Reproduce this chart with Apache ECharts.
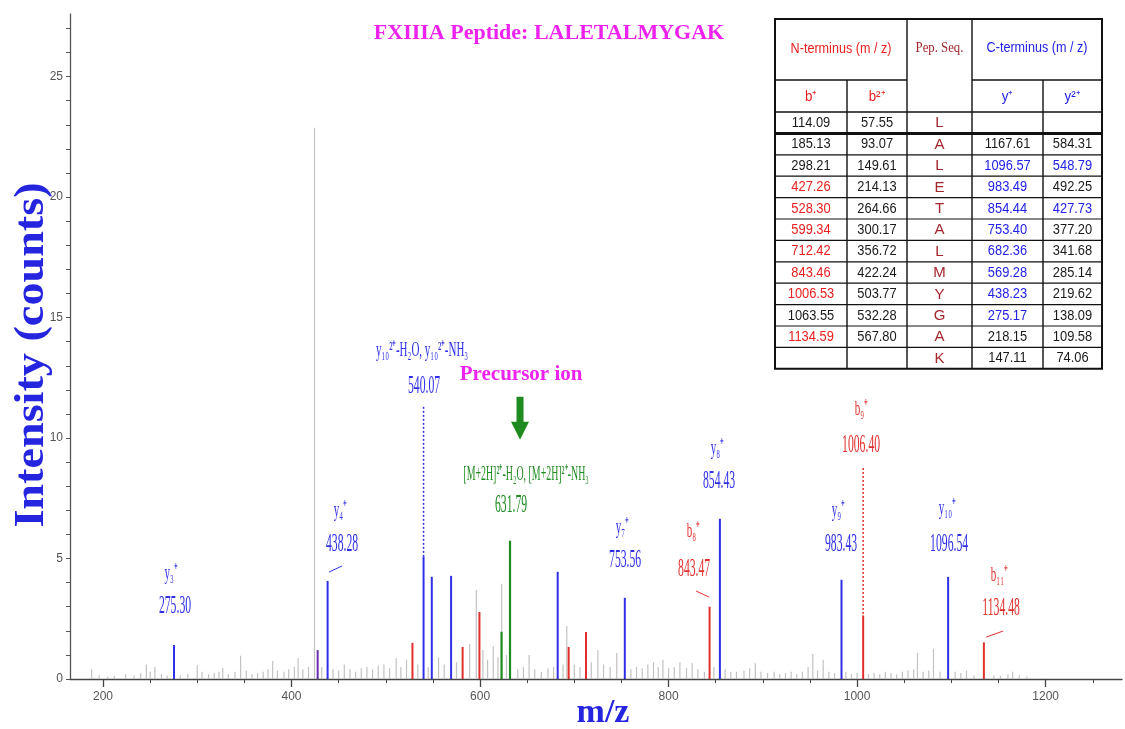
<!DOCTYPE html>
<html><head><meta charset="utf-8">
<script src="https://cdn.jsdelivr.net/npm/echarts@6/dist/echarts.min.js"></script>
<style>html,body{margin:0;padding:0;background:#fff}#c{width:1125px;height:729px}</style>
</head><body><div id="c"></div>
<script>
// ---------------- DATA ----------------
const xTickLabels = [200, 400, 600, 800, 1000, 1200];
const xMinorTicks = [200,250,300,350,400,450,500,550,600,650,700,750,800,850,900,950,1000,1050,1100,1150,1200,1250];
const yTickLabels = [0, 5, 10, 15, 20, 25];
const yMinorTicks = [0,1,2,3,4,5,6,7,8,9,10,11,12,13,14,15,16,17,18,19,20,21,22,23,24,25,26,27];

// matched y ions (blue)
const yIonMz  = [275.30, 438.28, 540.07, 548.79, 569.28, 682.36, 753.56, 854.43, 983.43, 1096.54];
const yIonInt = [1.41, 4.07, 5.07, 4.24, 4.28, 4.45, 3.37, 6.65, 4.12, 4.24];
// matched b ions (red)
const bIonMz  = [528.30, 581.5, 599.34, 694.0, 712.42, 843.47, 1006.40, 1134.48];
const bIonInt = [1.50, 1.33, 2.78, 1.33, 1.95, 3.00, 2.64, 1.52];
// precursor related (green)
const precMz  = [622.8, 631.79];
const precInt = [1.96, 5.74];
// overlapping b/y (purple)
const mixMz  = [427.73];
const mixInt = [1.20];
// unassigned peaks (gray)
const noiseMz  = [188,196,205,212,224,233,240,246,250,255,262,268,282,290,300,305,312,318,323,327,333,340,346,352,358,364,370,375,380,385,392,397,403,407,412,418,424.4,432,444,450,456,462,468,474,480,486,492,498,504,511,516,522,534,545,556,562,575,589,596,603,608,614,619,623,628,640,646,652,658,665,672,678,688,692,700,706,718,725,731,738,745,760,766,772,778,784,789,794,800,806,812,819,825,831,838,848,860,866,872,880,886,892,898,905,912,918,924,930,936,942,948,953,958,964,970,976,988,994,1000,1012,1018,1024,1030,1036,1042,1048,1054,1060,1064,1070,1076,1081,1088,1104,1110,1116,1124,1145,1152,1160,1165,1172,1180];
const noiseInt = [0.40,0.15,0.10,0.12,0.20,0.15,0.25,0.60,0.30,0.50,0.20,0.15,0.15,0.20,0.58,0.30,0.20,0.25,0.30,0.46,0.20,0.30,0.96,0.35,0.20,0.25,0.30,0.40,0.75,0.35,0.30,0.40,0.50,0.87,0.40,0.50,22.88,0.50,0.40,0.35,0.60,0.40,0.30,0.45,0.50,0.40,0.55,0.60,0.45,0.87,0.50,0.80,0.60,0.50,0.90,0.60,0.70,1.45,3.70,1.20,0.80,1.37,0.90,3.95,1.00,0.40,0.50,1.00,0.40,0.30,0.45,0.50,0.60,2.20,0.60,0.50,0.70,1.20,0.60,0.50,1.08,0.40,0.50,0.45,0.60,0.70,0.50,0.80,0.45,0.50,0.70,0.45,0.65,0.40,0.30,0.50,0.40,0.30,0.30,0.35,0.45,0.65,0.30,0.25,0.30,0.20,0.25,0.30,0.20,0.30,0.50,1.04,0.35,0.80,0.30,0.25,0.30,0.20,0.25,0.20,0.25,0.20,0.30,0.25,0.20,0.30,0.35,0.40,1.08,0.30,0.35,1.25,0.30,0.30,0.25,0.35,0.15,0.15,0.12,0.20,0.30,0.15,0.10];

// annotation texts
const annIon   = ['y₃⁺','y₄⁺','y₁₀²⁺-H₂O, y₁₀²⁺-NH₃','[M+2H]²⁺-H₂O, [M+2H]²⁺-NH₃','y₇⁺','b₈⁺','y₈⁺','y₉⁺','b₉⁺','y₁₀⁺','b₁₁⁺'];
const annValue = ['275.30','438.28','540.07','631.79','753.56','843.47','854.43','983.43','1006.40','1096.54','1134.48'];
const annKind  = ['y','y','y','p','y','b','y','y','b','y','b'];
const precursorText = 'Precursor ion';
const titleText = 'FXIIIA Peptide: LALETALMYGAK';
const xName = 'm/z';
const yName = 'Intensity (counts)';

// fragment table
const tableHeadN = 'N-terminus (m / z)';
const tableHeadSeq = 'Pep. Seq.';
const tableHeadC = 'C-terminus (m / z)';
const tableSub = ['b⁺', 'b²⁺', 'y⁺', 'y²⁺'];
const bPlus  = ['114.09','185.13','298.21','427.26','528.30','599.34','712.42','843.46','1006.53','1063.55','1134.59',''];
const b2Plus = ['57.55','93.07','149.61','214.13','264.66','300.17','356.72','422.24','503.77','532.28','567.80',''];
const seqRes = ['L','A','L','E','T','A','L','M','Y','G','A','K'];
const yPlus  = ['','1167.61','1096.57','983.49','854.44','753.40','682.36','569.28','438.23','275.17','218.15','147.11'];
const y2Plus = ['','584.31','548.79','492.25','427.73','377.20','341.68','285.14','219.62','138.09','109.58','74.06'];
const bPlusHit  = [0,0,0,1,1,1,1,1,1,0,1,0];
const yPlusHit  = [0,0,1,1,1,1,1,1,1,1,0,0];
const y2PlusHit = [0,0,1,0,1,0,0,0,0,0,0,0];

// ---------------- LAYOUT / STYLE ----------------
// annotation placement in data units: [mz line1, int line1, mz line2, int line2]
const annPos = [
  [272.1,4.40, 276.4,3.03],
  [451.5,7.02, 453.6,5.61],
  [538.5,13.66, 540.6,12.17],
  [648.8,8.51, 632.9,7.23],
  [750.7,6.31, 753.9,4.94],
  [826.0,6.15, 827.1,4.57],
  [851.5,9.59, 853.6,8.22],
  [979.8,7.02, 983.0,5.61],
  [1004.2,11.21, 1004.2,9.72],
  [1095.5,7.10, 1097.6,5.61],
  [1150.7,4.32, 1152.8,2.95]
];
const dottedLinks = [[540.07, 5.07, 11.38, 'y'], [1006.40, 2.70, 8.80, 'b']];
const leaders = [[439.8,4.44,453.6,4.69,'y'],[829.2,3.65,843.0,3.40,'b'],[1136.9,1.74,1154.9,1.99,'b']];
const precursorPos = [643.5, 12.62];
const arrowPos = [642.4, 11.71, 9.93];

const C = { y:'#2f2fe8', b:'#e0302c', p:'#1f8a1f', mix:'#6a2fb0', gray:'#c2c2c2', mag:'#ee22ee' };

function sticks(mz, it, color, width, z) {
  return {
    type: 'custom', silent: true, z: z, clip: false,
    data: mz.map((m, i) => [m, it[i]]),
    renderItem(params, api) {
      const p0 = api.coord([api.value(0), 0]);
      const p1 = api.coord([api.value(0), api.value(1)]);
      return { type: 'line', shape: { x1: p0[0], y1: p0[1], x2: p1[0], y2: p1[1] },
               style: { stroke: color, lineWidth: width } };
    }
  };
}

const serifNum = '26px "Liberation Serif", "Times New Roman", serif';
const serifIon = '22px "Liberation Serif", "Times New Roman", serif';

const annSeries = {
  type: 'custom', silent: true, z: 20, clip: false,
  data: annIon.map((t, i) => [annPos[i][0], annPos[i][1], i]),
  renderItem(params, api) {
    const i = params.dataIndex;
    const p = annPos[i];
    const a = api.coord([p[0], p[1]]);
    const b = api.coord([p[2], p[3]]);
    const col = C[annKind[i]];
    return { type: 'group', children: [
      { type: 'text', x: a[0], y: a[1], scaleX: annKind[i] === 'p' ? 0.45 : 0.5,
        style: { text: annIon[i], fill: col, font: serifIon, align: 'center', verticalAlign: 'middle' } },
      { type: 'text', x: b[0], y: b[1], scaleX: 0.45,
        style: { text: annValue[i], fill: col, font: serifNum, align: 'center', verticalAlign: 'middle' } }
    ]};
  }
};

const linkSeries = {
  type: 'custom', silent: true, z: 15, clip: false,
  data: dottedLinks.map((d) => [d[0], d[1], d[2]]),
  renderItem(params, api) {
    const d = dottedLinks[params.dataIndex];
    const p0 = api.coord([d[0], d[1]]);
    const p1 = api.coord([d[0], d[2]]);
    return { type: 'line', shape: { x1: p0[0], y1: p0[1], x2: p1[0], y2: p1[1] },
             style: { stroke: C[d[3]], lineWidth: 1.5, lineDash: [2, 2] } };
  }
};

const leaderSeries = {
  type: 'custom', silent: true, z: 15, clip: false,
  data: leaders.map((d) => [d[0], d[1]]),
  renderItem(params, api) {
    const d = leaders[params.dataIndex];
    const p0 = api.coord([d[0], d[1]]);
    const p1 = api.coord([d[2], d[3]]);
    return { type: 'line', shape: { x1: p0[0], y1: p0[1], x2: p1[0], y2: p1[1] },
             style: { stroke: C[d[4]], lineWidth: 1 } };
  }
};

const precursorSeries = {
  type: 'custom', silent: true, z: 20, clip: false,
  data: [[precursorPos[0], precursorPos[1]]],
  renderItem(params, api) {
    const t = api.coord(precursorPos);
    const a0 = api.coord([arrowPos[0], arrowPos[1]]);
    const a1 = api.coord([arrowPos[0], arrowPos[2]]);
    const hx = a0[0], headH = 18, headW = 9, shaftW = 3.5;
    return { type: 'group', children: [
      { type: 'text', x: t[0], y: t[1],
        style: { text: precursorText, fill: C.mag, font: 'bold 21px "Liberation Serif", serif', align: 'center', verticalAlign: 'middle' } },
      { type: 'polygon', shape: { points: [
          [hx - shaftW, a0[1]], [hx + shaftW, a0[1]], [hx + shaftW, a1[1] - headH],
          [hx + headW, a1[1] - headH], [hx, a1[1]], [hx - headW, a1[1] - headH], [hx - shaftW, a1[1] - headH]
        ] }, style: { fill: C.p } }
    ]};
  }
};

// ---------------- TABLE (graphic) ----------------
const colX = [775, 847, 907, 972, 1043, 1102];
const T_TOP = 19, H1 = 80, H2 = 112, ROWH = 21.4;
const T_BOT = H2 + seqRes.length * ROWH;
const tableEls = [];
function hline(x1, x2, y, w) { tableEls.push({ type: 'line', shape: { x1, y1: y, x2, y2: y }, style: { stroke: '#111', lineWidth: w || 1.4 } }); }
function vline(x, y1, y2, w) { tableEls.push({ type: 'line', shape: { x1: x, y1, x2: x, y2 }, style: { stroke: '#111', lineWidth: w || 1.4 } }); }
function txt(s, x, y, color, font, sx) {
  tableEls.push({ type: 'text', x, y, scaleX: sx || 0.9,
    style: { text: s, fill: color, font, align: 'center', verticalAlign: 'middle' } });
}
tableEls.push({ type: 'rect', shape: { x: colX[0], y: T_TOP, width: colX[5] - colX[0], height: T_BOT - T_TOP },
  style: { fill: '#fff', stroke: '#111', lineWidth: 2 } });
hline(colX[0], colX[2], H1); hline(colX[3], colX[5], H1);
hline(colX[0], colX[5], H2);
vline(colX[2], T_TOP, T_BOT); vline(colX[3], T_TOP, T_BOT);
vline(colX[1], H1, T_BOT); vline(colX[4], H1, T_BOT);
for (let r = 1; r < seqRes.length; r++) hline(colX[0], colX[5], H2 + r * ROWH, r === 1 ? 3 : 1.2);
const sans = '14px "Liberation Sans", Arial, sans-serif';
const RED = '#e82020', BLUE = '#2222e6', BLK = '#1a1a1a', SEQ = '#a3262c';
txt(tableHeadN, (colX[0] + colX[2]) / 2, 49, RED, sans, 0.9);
txt(tableHeadSeq, (colX[2] + colX[3]) / 2, 48, SEQ, '15px "Liberation Serif", serif', 0.85);
txt(tableHeadC, (colX[3] + colX[5]) / 2, 48, BLUE, sans, 0.9);
txt(tableSub[0], (colX[0] + colX[1]) / 2, 97, RED, sans, 0.95);
txt(tableSub[1], (colX[1] + colX[2]) / 2, 97, RED, sans, 0.95);
txt(tableSub[2], (colX[3] + colX[4]) / 2, 97, BLUE, sans, 0.95);
txt(tableSub[3], (colX[4] + colX[5]) / 2, 97, BLUE, sans, 0.95);
seqRes.forEach((s, r) => {
  const cy = H2 + (r + 0.5) * ROWH + 0.5;
  txt(bPlus[r], (colX[0] + colX[1]) / 2, cy, bPlusHit[r] ? RED : BLK, sans, 0.92);
  txt(b2Plus[r], (colX[1] + colX[2]) / 2, cy, BLK, sans, 0.92);
  txt(s, (colX[2] + colX[3]) / 2, cy, SEQ, '15px "Liberation Sans", Arial, sans-serif', 1);
  txt(yPlus[r], (colX[3] + colX[4]) / 2, cy, yPlusHit[r] ? BLUE : BLK, sans, 0.92);
  txt(y2Plus[r], (colX[4] + colX[5]) / 2, cy, y2PlusHit[r] ? BLUE : BLK, sans, 0.92);
});

// ---------------- CHART ----------------
const chart = echarts.init(document.getElementById('c'), null, { renderer: 'canvas' });
const axisFont = { color: '#555', fontSize: 12, fontFamily: '"Liberation Sans Narrow", "Liberation Sans", sans-serif', formatter: (v) => String(v) };
chart.setOption({
  animation: false,
  backgroundColor: '#fff',
  grid: { left: 70, right: 3, top: 14, bottom: 50, containLabel: false },
  xAxis: [
    { type: 'value', min: 165, max: 1281, position: 'bottom',
      axisLine: { show: true, lineStyle: { color: '#444', width: 1.3 } },
      axisTick: { show: true, length: 8, customValues: xTickLabels, lineStyle: { color: '#444', width: 1.3 } },
      axisLabel: Object.assign({ customValues: xTickLabels, margin: 12 }, axisFont),
      splitLine: { show: false } },
    { type: 'value', min: 165, max: 1281, position: 'bottom',
      axisLine: { show: false },
      axisTick: { show: true, length: 4, customValues: xMinorTicks, lineStyle: { color: '#444', width: 1 } },
      axisLabel: { show: false }, splitLine: { show: false } }
  ],
  yAxis: { type: 'value', min: 0, max: 27.6,
    axisLine: { show: true, lineStyle: { color: '#555', width: 1.3 } },
    axisTick: { show: true, length: 4, customValues: yMinorTicks, lineStyle: { color: '#555' } },
    axisLabel: Object.assign({ customValues: yTickLabels, margin: 7 }, axisFont),
    splitLine: { show: false } },
  graphic: [
    { type: 'text', x: 549, y: 33, z: 50,
      style: { text: titleText, fill: C.mag, font: 'bold 22px "Liberation Serif", serif', align: 'center', verticalAlign: 'middle' } },
    { type: 'text', x: 603, y: 713, z: 50,
      style: { text: xName, fill: '#2525e0', font: 'bold 34px "Liberation Serif", serif', align: 'center', verticalAlign: 'middle' } },
    { type: 'text', x: 32, y: 355, rotation: Math.PI / 2, scaleX: 1.1, z: 50,
      style: { text: yName, fill: '#2525e0', font: 'bold 42px "Liberation Serif", serif', align: 'center', verticalAlign: 'middle' } },
    { type: 'group', z: 60, children: tableEls }
  ],
  series: [
    sticks(noiseMz, noiseInt, C.gray, 1.2, 2),
    sticks(yIonMz, yIonInt, C.y, 2, 5),
    sticks(bIonMz, bIonInt, C.b, 2, 5),
    sticks(precMz, precInt, C.p, 2.2, 5),
    sticks(mixMz, mixInt, C.mix, 2, 5),
    linkSeries, leaderSeries, annSeries, precursorSeries
  ]
});
</script>
</body></html>
